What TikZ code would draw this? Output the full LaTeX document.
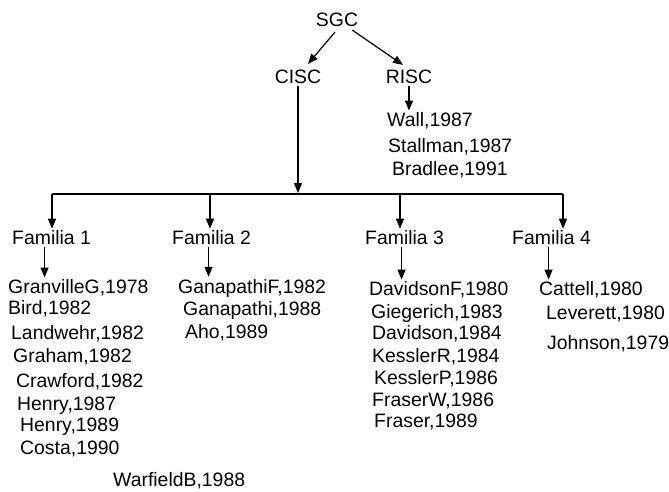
\documentclass[tikz,border=0pt]{standalone}
\usepackage{fontspec}
\setmainfont{Liberation Sans}
\usetikzlibrary{arrows.meta}
\begin{document}
\begin{tikzpicture}[x=1pt,y=-1pt,
  lbl/.style={inner sep=2pt,font=\fontsize{19.4}{21}\selectfont},
  itm/.style={lbl,anchor=west},
  arr/.style={line width=1.2pt,-{Triangle[length=10pt,width=8pt]}},
  ln/.style={line width=1.2pt}]
\useasboundingbox (0,0) rectangle (669,492);
\node[lbl] (sgc) at (337,20) {SGC};
\node[lbl] (cisc) at (298,77) {CISC};
\node[lbl] (risc) at (409,77) {RISC};
\node[itm] (wall) at (385,121) {Wall,1987};
\node[itm] (stal) at (386,147) {Stallman,1987};
\node[itm] (brad) at (390,170) {Bradlee,1991};
% families
\node[itm] (f1) at (10,238) {Familia 1};
\node[itm] (f2) at (170,238) {Familia 2};
\node[itm] (f3) at (363,238) {Familia 3};
\node[itm] (f4) at (510,238) {Familia 4};
% family 1
\node[itm] (a1) at (6,288) {GranvilleG,1978};
\node[itm] (a2) at (6,309) {Bird,1982};
\node[itm] (a3) at (9,334) {Landwehr,1982};
\node[itm] (a4) at (11,357) {Graham,1982};
\node[itm] (a5) at (14,382) {Crawford,1982};
\node[itm] (a6) at (15,406) {Henry,1987};
\node[itm] (a7) at (18,427) {Henry,1989};
\node[itm] (a8) at (18,449) {Costa,1990};
\node[itm] (a9) at (111,481) {WarfieldB,1988};
% family 2
\node[itm] (b1) at (176,288) {GanapathiF,1982};
\node[itm] (b2) at (181,310) {Ganapathi,1988};
\node[itm] (b3) at (183,333) {Aho,1989};
% family 3
\node[itm] (c1) at (367,290) {DavidsonF,1980};
\node[itm] (c2) at (369,313) {Giegerich,1983};
\node[itm] (c3) at (370,334) {Davidson,1984};
\node[itm] (c4) at (370,357) {KesslerR,1984};
\node[itm] (c5) at (372,379) {KesslerP,1986};
\node[itm] (c6) at (370,401) {FraserW,1986};
\node[itm] (c7) at (372,422) {Fraser,1989};
% family 4
\node[itm] (d1) at (537,290) {Cattell,1980};
\node[itm] (d2) at (544,314) {Leverett,1980};
\node[itm] (d3) at (545,344) {Johnson,1979};
% bus coordinates
\coordinate (bus1) at (52,194);
\coordinate (bus2) at (210,194);
\coordinate (bus3) at (400,194);
\coordinate (bus4) at (563,194);
% connectors
\draw[arr] ([xshift=-2pt,yshift=-3pt]sgc.south) -- ([xshift=10pt,yshift=4pt]cisc.north);
\draw[arr] ([xshift=-8pt,yshift=-1pt]sgc.south east) -- ([xshift=-6pt,yshift=3pt]risc.north);
\draw[arr] (risc.south) -- (risc.south |- wall.north);
\draw[arr,shorten >=1pt] (cisc.south) -- (cisc.south |- bus1);
\draw[ln] (bus1) -- (bus4);
\draw[arr] (bus1) -- (bus1 |- f1.north);
\draw[arr] (bus2) -- (bus2 |- f2.north);
\draw[arr] (bus3) -- (bus3 |- f3.north);
\draw[arr] (bus4) -- (bus4 |- f4.north);
\draw[arr] ([xshift=-7pt]f1.south) -- ([xshift=-7pt]f1.south |- a1.north);
\draw[arr] ([xshift=-3pt]f2.south) -- ([xshift=-3pt]f2.south |- b1.north);
\draw[arr] ([xshift=-3pt]f3.south) -- ([xshift=-3pt]f3.south |- c1.north);
\draw[arr] ([xshift=-3pt]f4.south) -- ([xshift=-3pt]f4.south |- d1.north);
\end{tikzpicture}
\end{document}
